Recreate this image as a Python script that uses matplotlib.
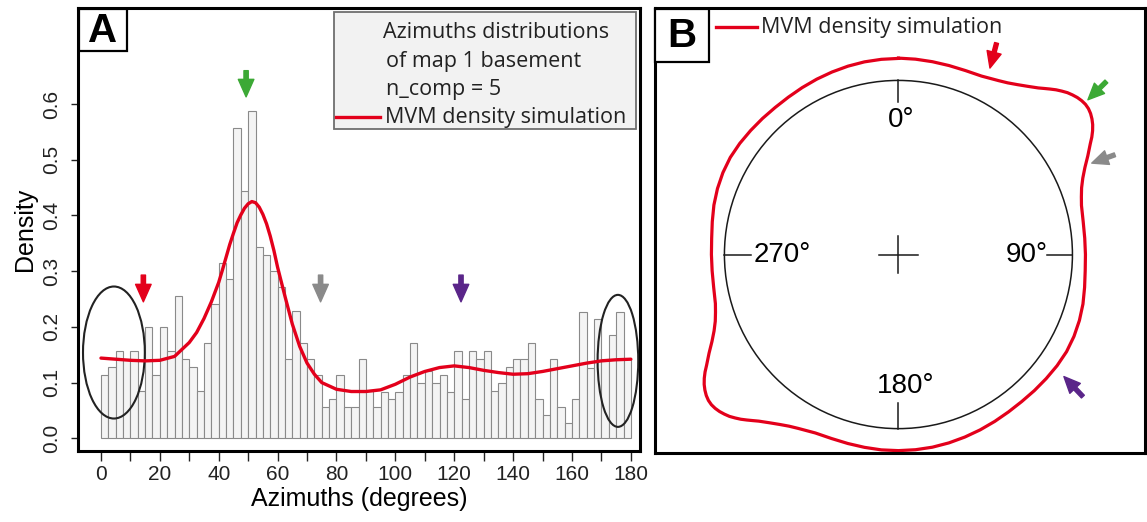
import numpy as np
import matplotlib
matplotlib.use("Agg")
import matplotlib.pyplot as plt
from matplotlib.patches import Rectangle, Ellipse, Circle
from matplotlib.lines import Line2D

plt.rcParams['font.family'] = ['Liberation Sans', 'DejaVu Sans']

W, H = 1147, 522

# histogram of azimuths, 2.5 degree bins starting at 0
bin_width = 2.5
bar_height = [
    0.114, 0.128, 0.157, 0.143, 0.157, 0.085, 0.199, 0.114, 0.199, 0.157,
    0.256, 0.143, 0.128, 0.085, 0.171, 0.242, 0.314, 0.286, 0.557, 0.444,
    0.587, 0.343, 0.329, 0.300, 0.271, 0.143, 0.228, 0.171, 0.143, 0.114,
    0.056, 0.071, 0.114, 0.056, 0.056, 0.143, 0.085, 0.056, 0.084, 0.070,
    0.084, 0.114, 0.171, 0.099, 0.120, 0.099, 0.114, 0.084, 0.156, 0.070,
    0.156, 0.142, 0.156, 0.085, 0.099, 0.128, 0.142, 0.142, 0.171, 0.070,
    0.042, 0.142, 0.057, 0.027, 0.070, 0.227, 0.127, 0.214, 0.142, 0.186,
    0.227, 0.142,
]
bin_left = np.arange(len(bar_height)) * bin_width

# MVM density curve
curve_x = [0, 5, 10, 15, 20, 25, 30, 32.5, 35, 37.5, 40, 41.25, 42.5, 43.75,
           45, 46.25, 47.5, 48.75, 50, 51.25, 52.5, 53.75, 55, 56.25, 57.5,
           58.75, 60, 62.5, 65, 67.5, 70, 72.5, 75, 80, 85, 90, 95,
           100, 105, 110, 115, 120, 125, 130, 135, 140, 145, 150, 155, 160,
           165, 170, 175, 180]
curve_y = [0.144, 0.142, 0.140, 0.139, 0.140, 0.147, 0.172, 0.190, 0.215,
           0.245, 0.280, 0.302, 0.325, 0.348, 0.368, 0.387, 0.401, 0.413,
           0.421, 0.425, 0.423, 0.415, 0.402, 0.385, 0.363, 0.337, 0.307,
           0.255, 0.205, 0.165, 0.135, 0.115, 0.100, 0.088, 0.084,
           0.084, 0.087, 0.097, 0.110, 0.120, 0.127, 0.130, 0.127, 0.122,
           0.118, 0.115, 0.116, 0.120, 0.125, 0.130, 0.135, 0.139, 0.141,
           0.142]

x_ticks = np.arange(0, 181, 10)
y_ticks = [0.0, 0.1, 0.2, 0.3, 0.4, 0.5, 0.6]

red = '#e3001b'
arrow_cols = {'red': '#e3001b', 'green': '#3ca935', 'gray': '#8a8a8a', 'purple': '#5a2589'}


def fx(px):
    return px / W


def fy(py):
    return 1 - py / H


fig = plt.figure(figsize=(W / 100, H / 100), dpi=100)

# ---------------- panel A ----------------
axA = fig.add_axes([fx(78), fy(451), (640 - 78) / W, (451 - 8) / H])
axA.bar(bin_left, bar_height, width=bin_width, align='edge',
        color='#f4f4f4', edgecolor='#8a8a8a', linewidth=0.8)
axA.plot(curve_x, curve_y, color=red, lw=2.4, solid_capstyle='round', solid_joinstyle='round')
axA.set_xlim(-7.8, 183.1)
axA.set_ylim(-0.0228, 0.7725)

for sp in axA.spines.values():
    sp.set_linewidth(2.2)
axA.set_xticks(x_ticks)
axA.set_xticklabels([str(t) if t % 20 == 0 else '' for t in x_ticks])
axA.set_yticks(y_ticks)
axA.set_yticklabels([f'{t:.1f}' for t in y_ticks], rotation=90, va='center')
axA.tick_params(axis='x', length=7, width=1, pad=3, labelsize=15, colors='#222222')
axA.tick_params(axis='y', length=5, width=1, pad=7, labelsize=15, colors='#222222')
axA.set_xlabel('Azimuths (degrees)', fontsize=18, labelpad=2)
axA.set_ylabel('Density', fontsize=18, labelpad=4)

axA.add_patch(Ellipse((4.4, 0.154), 21, 0.237, fill=False, ec='#222222', lw=1.5, clip_on=False))
axA.add_patch(Ellipse((175.6, 0.139), 13.8, 0.237, fill=False, ec='#222222', lw=1.5, clip_on=False))

arrowsA = [(14.4, 0.245, 0.293, 'red'), (49.3, 0.613, 0.660, 'green'),
           (74.6, 0.245, 0.293, 'gray'), (122.3, 0.245, 0.293, 'purple')]
for x, tip, tail, c in arrowsA:
    axA.annotate('', xy=(x, tip), xytext=(x, tail),
                 arrowprops=dict(arrowstyle='simple,head_length=0.9,head_width=0.8,tail_width=0.22',
                                 color=arrow_cols[c], mutation_scale=14,
                                 shrinkA=0, shrinkB=0))

# "A" label box
fig.add_artist(Rectangle((fx(79), fy(51)), (127 - 79) / W, (51 - 9) / H,
                         transform=fig.transFigure, fc='white', ec='black', lw=1.6))
fig.text(fx(103), fy(31), 'A', fontsize=29, fontweight='bold', ha='center', va='center')

# legend box of panel A
fig.add_artist(Rectangle((fx(334), fy(129)), (636 - 334) / W, (129 - 12) / H,
                         transform=fig.transFigure, fc='#f2f2f2', ec='#6f6f6f', lw=1.3))
leg_font = dict(fontsize=15.5, family=['Open Sans', 'DejaVu Sans'], color='#222222', va='center')
fig.text(fx(383), fy(33), 'Azimuths distributions', **leg_font)
fig.text(fx(386), fy(61), 'of map 1 basement', **leg_font)
fig.text(fx(386), fy(89), 'n_comp = 5', **leg_font)
fig.text(fx(385), fy(117), 'MVM density simulation', **leg_font)
fig.add_artist(Line2D([fx(336), fx(380)], [fy(117), fy(117)], color=red, lw=2.4,
                      transform=fig.transFigure))

# ---------------- panel B ----------------
axB = fig.add_axes([fx(655), fy(453), 490 / W, 445 / H])
axB.set_xlim(-1.399, 1.417)
axB.set_ylim(-1.140, 1.416)
axB.set_xticks([])
axB.set_yticks([])
for sp in axB.spines.values():
    sp.set_linewidth(2.2)

axB.add_patch(Circle((0, 0), 1, fill=False, ec='#1a1a1a', lw=1.1))
for a, ln in [(0, 0.125), (90, 0.145), (180, 0.15), (270, 0.155)]:
    t = np.radians(a)
    axB.plot([np.sin(t), (1 - ln) * np.sin(t)], [np.cos(t), (1 - ln) * np.cos(t)],
             color='#1a1a1a', lw=1.1)
axB.plot([-0.112, 0.112], [0, 0], color='#1a1a1a', lw=1.1)
axB.plot([0, 0], [-0.105, 0.105], color='#1a1a1a', lw=1.1)

axB.text(0.018, 0.775, '0°', fontsize=20, ha='center', va='center')
axB.text(0.041, -0.755, '180°', fontsize=20, ha='center', va='center')
axB.text(-0.834, 0.0, '270°', fontsize=20, ha='left', va='center')
axB.text(0.859, 0.0, '90°', fontsize=20, ha='right', va='center')

# axial density drawn around the circle (same curve, repeated for 180-360)
theta = np.radians(np.concatenate([curve_x, np.array(curve_x[1:]) + 180]))
dens = np.concatenate([curve_y, curve_y[1:]])
r = 1 + 0.89 * dens
axB.plot(r * np.sin(theta), r * np.cos(theta), color=red, lw=2.3, solid_joinstyle='round')

arrowsB = [((0.526, 1.071), (0.564, 1.215), 'red'),
           ((1.089, 0.889), (1.195, 0.994), 'green'),
           ((1.111, 0.525), (1.244, 0.573), 'gray'),
           ((0.951, -0.701), (1.060, -0.816), 'purple')]
for tip, tail, c in arrowsB:
    axB.annotate('', xy=tip, xytext=tail,
                 arrowprops=dict(arrowstyle='simple,head_length=0.9,head_width=0.8,tail_width=0.22',
                                 color=arrow_cols[c], mutation_scale=13,
                                 shrinkA=0, shrinkB=0))

fig.add_artist(Rectangle((fx(655), fy(62)), (709 - 655) / W, (62 - 9) / H,
                         transform=fig.transFigure, fc='white', ec='black', lw=1.6))
fig.text(fx(682), fy(36), 'B', fontsize=29, fontweight='bold', ha='center', va='center')
fig.add_artist(Line2D([fx(716), fx(757)], [fy(27), fy(27)], color=red, lw=2.4,
                      transform=fig.transFigure))
fig.text(fx(761), fy(27), 'MVM density simulation', **leg_font)

fig.savefig('out.png', dpi=100)
